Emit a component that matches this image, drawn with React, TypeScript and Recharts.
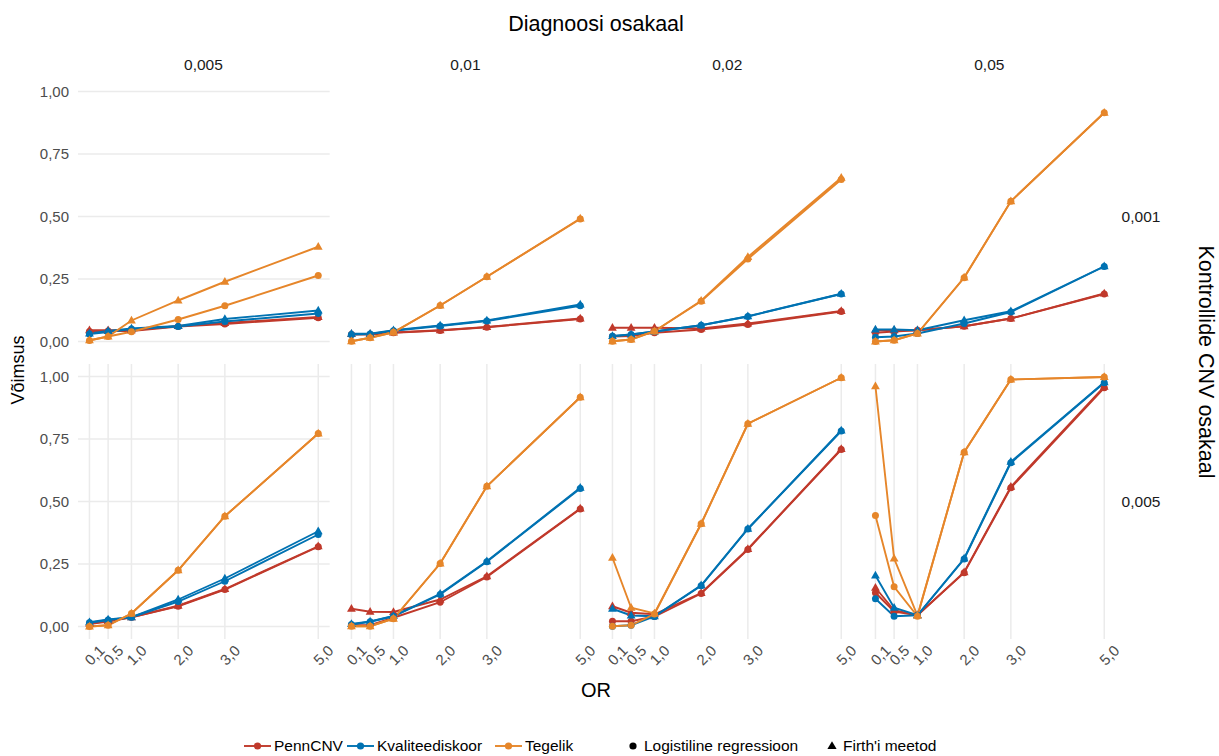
import { LineChart, Line, XAxis, YAxis, CartesianGrid } from "recharts";

const orValues = [0.1, 0.5, 1, 2, 3, 5];
const diagnosisShares = ["0,005", "0,01", "0,02", "0,05"];
const controlShares = ["0,001", "0,005"];
const powerTicks = [0, 0.25, 0.5, 0.75, 1];

// [kontrollide osakaal][diagnoosi osakaal][OR]
const pennLogit = [
  [
    [0.04, 0.042, 0.042, 0.06, 0.07, 0.095],
    [0.028, 0.028, 0.035, 0.044, 0.057, 0.09],
    [0.02, 0.022, 0.035, 0.048, 0.068, 0.12],
    [0.035, 0.04, 0.045, 0.061, 0.092, 0.19],
  ],
  [
    [0.01, 0.02, 0.037, 0.081, 0.148, 0.319],
    [0.005, 0.005, 0.035, 0.097, 0.198, 0.47],
    [0.021, 0.021, 0.04, 0.132, 0.308, 0.708],
    [0.135, 0.06, 0.045, 0.215, 0.555, 0.955],
  ],
];

const pennFirth = [
  [
    [0.045, 0.045, 0.045, 0.062, 0.074, 0.098],
    [0.03, 0.03, 0.036, 0.045, 0.058, 0.092],
    [0.055, 0.055, 0.055, 0.052, 0.072, 0.122],
    [0.045, 0.045, 0.045, 0.061, 0.092, 0.192],
  ],
  [
    [0.012, 0.022, 0.037, 0.083, 0.15, 0.321],
    [0.071, 0.059, 0.058, 0.108, 0.201, 0.472],
    [0.081, 0.055, 0.049, 0.134, 0.31, 0.71],
    [0.155, 0.065, 0.045, 0.217, 0.559, 0.959],
  ],
];

const qualLogit = [
  [
    [0.03, 0.038, 0.05, 0.06, 0.08, 0.112],
    [0.028, 0.03, 0.043, 0.062, 0.082, 0.143],
    [0.021, 0.028, 0.04, 0.065, 0.1, 0.19],
    [0.017, 0.02, 0.032, 0.072, 0.118, 0.3],
  ],
  [
    [0.015, 0.026, 0.037, 0.1, 0.181, 0.368],
    [0.008, 0.019, 0.041, 0.128, 0.259, 0.552],
    [0.001, 0.005, 0.04, 0.163, 0.39, 0.782],
    [0.111, 0.041, 0.045, 0.27, 0.655, 0.975],
  ],
];

const qualFirth = [
  [
    [0.032, 0.042, 0.052, 0.062, 0.09, 0.124],
    [0.031, 0.031, 0.045, 0.064, 0.084, 0.148],
    [0.022, 0.028, 0.04, 0.065, 0.101, 0.191],
    [0.048, 0.048, 0.045, 0.085, 0.121, 0.301],
  ],
  [
    [0.017, 0.028, 0.037, 0.108, 0.192, 0.381],
    [0.01, 0.02, 0.042, 0.131, 0.261, 0.555],
    [0.071, 0.044, 0.041, 0.165, 0.391, 0.784],
    [0.204, 0.075, 0.045, 0.272, 0.659, 0.977],
  ],
];

const trueLogit = [
  [
    [0.004, 0.02, 0.039, 0.088, 0.143, 0.264],
    [0.001, 0.015, 0.037, 0.144, 0.259, 0.49],
    [0.001, 0.008, 0.041, 0.161, 0.33, 0.648],
    [0.0, 0.005, 0.032, 0.255, 0.561, 0.915],
  ],
  [
    [0.0, 0.005, 0.052, 0.225, 0.441, 0.772],
    [0.001, 0.001, 0.031, 0.252, 0.561, 0.917],
    [0.001, 0.005, 0.05, 0.411, 0.811, 0.995],
    [0.444, 0.159, 0.041, 0.697, 0.988, 0.998],
  ],
];

const trueFirth = [
  [
    [0.005, 0.02, 0.084, 0.164, 0.239, 0.379],
    [0.001, 0.015, 0.037, 0.144, 0.259, 0.492],
    [0.001, 0.008, 0.041, 0.163, 0.338, 0.655],
    [0.0, 0.005, 0.032, 0.256, 0.561, 0.915],
  ],
  [
    [0.0, 0.005, 0.052, 0.225, 0.441, 0.772],
    [0.001, 0.001, 0.031, 0.252, 0.561, 0.917],
    [0.275, 0.075, 0.052, 0.411, 0.811, 0.995],
    [0.961, 0.272, 0.044, 0.697, 0.988, 0.998],
  ],
];

const RED = "#c0392b";
const BLUE = "#0072b2";
const ORANGE = "#e6862a";
const FONT = "'Liberation Sans', Arial, Helvetica, sans-serif";

const series = [
  { key: "pennLogit", src: pennLogit, color: RED, shape: "circle" },
  { key: "pennFirth", src: pennFirth, color: RED, shape: "triangle" },
  { key: "qualLogit", src: qualLogit, color: BLUE, shape: "circle" },
  { key: "qualFirth", src: qualFirth, color: BLUE, shape: "triangle" },
  { key: "trueLogit", src: trueLogit, color: ORANGE, shape: "circle" },
  { key: "trueFirth", src: trueFirth, color: ORANGE, shape: "triangle" },
];

const PLOT_W = 251.7;
const PLOT_H = 275;
const COL_LEFT = [77.6, 339.6, 601.4, 863.5];
const ROW_TOP = [79.2, 364.2];
const Y_AXIS_W = 60;
const X_AXIS_H = 45;

const fmt1 = (v: number) => v.toFixed(1).replace(".", ",");
const fmt2 = (v: number) => v.toFixed(2).replace(".", ",");

function makeDot(color: string, shape: string) {
  return (props: any) => {
    const { cx, cy, index } = props;
    if (cx == null || cy == null) return <g key={`d${index}`} />;
    if (shape === "triangle") {
      return (
        <polygon
          key={`d${index}`}
          points={`${cx},${cy - 4.8} ${cx - 4.4},${cy + 3} ${cx + 4.4},${cy + 3}`}
          fill={color}
        />
      );
    }
    return <circle key={`d${index}`} cx={cx} cy={cy} r={3.5} fill={color} />;
  };
}

function XTick(props: any) {
  const { x, payload } = props;
  const cx = x + 5;
  const cy = PLOT_H + 16;
  return (
    <text
      x={cx}
      y={cy}
      transform={`rotate(-45, ${cx}, ${cy})`}
      textAnchor="middle"
      dominantBaseline="central"
      fontSize={15}
      fill="#4d4d4d"
      fontFamily={FONT}
    >
      {fmt1(payload.value)}
    </text>
  );
}

function Panel({ row, col }: { row: number; col: number }) {
  const data = orValues.map((or, i) => {
    const d: any = { or };
    series.forEach((s) => {
      d[s.key] = s.src[row][col][i];
    });
    return d;
  });
  const showY = col === 0;
  const showX = row === 1;
  const width = PLOT_W + (showY ? Y_AXIS_W : 0);
  const height = PLOT_H + (showX ? X_AXIS_H : 0);
  return (
    <div
      style={{
        position: "absolute",
        left: COL_LEFT[col] - (showY ? Y_AXIS_W : 0),
        top: ROW_TOP[row],
      }}
    >
      <LineChart width={width} height={height} data={data} margin={{ top: 0, right: 0, bottom: 0, left: 0 }}>
        <CartesianGrid stroke="#ebebeb" strokeWidth={1.5} syncWithTicks />
        <XAxis
          dataKey="or"
          type="number"
          domain={[-0.145, 5.245]}
          ticks={orValues}
          allowDataOverflow
          axisLine={false}
          tickLine={false}
          height={showX ? X_AXIS_H : 0}
          tick={showX ? <XTick /> : false}
          interval={0}
        />
        <YAxis
          type="number"
          domain={[-0.05, 1.05]}
          ticks={powerTicks}
          allowDataOverflow
          axisLine={false}
          tickLine={false}
          width={showY ? Y_AXIS_W : 0}
          tick={showY ? { fontSize: 15, fill: "#4d4d4d", fontFamily: FONT } : false}
          tickFormatter={fmt2}
          tickSize={6}
          tickMargin={3}
          interval={0}
        />
        {series.map((s) => (
          <Line
            key={s.key}
            dataKey={s.key}
            stroke={s.color}
            strokeWidth={1.9}
            dot={makeDot(s.color, s.shape)}
            activeDot={false}
            isAnimationActive={false}
            type="linear"
          />
        ))}
      </LineChart>
    </div>
  );
}

function LegendGlyph({ color, shape, line }: { color: string; shape: string; line: boolean }) {
  const w = line ? 27 : 16;
  const c = w / 2;
  return (
    <svg width={w} height={16} style={{ display: "block" }}>
      {line && <line x1={0} y1={8} x2={w} y2={8} stroke={color} strokeWidth={1.9} />}
      {shape === "circle" ? (
        <circle cx={c} cy={8} r={3.6} fill={color} />
      ) : (
        <polygon points={`${c},3.2 ${c - 4.6},11 ${c + 4.6},11`} fill={color} />
      )}
    </svg>
  );
}

const colorLegend = [
  { label: "PennCNV", color: RED, left: 244 },
  { label: "Kvaliteediskoor", color: BLUE, left: 347 },
  { label: "Tegelik", color: ORANGE, left: 495 },
];
const shapeLegend = [
  { label: "Logistiline regressioon", shape: "circle", left: 625 },
  { label: "Firth'i meetod", shape: "triangle", left: 824 },
];

function LegendItem({ left, glyph, label }: { left: number; glyph: any; label: string }) {
  return (
    <div
      style={{
        position: "absolute",
        left,
        top: 738,
        display: "flex",
        alignItems: "center",
        fontSize: 15.5,
        color: "#000",
        whiteSpace: "nowrap",
        lineHeight: "16px",
      }}
    >
      {glyph}
      <span style={{ marginLeft: 3 }}>{label}</span>
    </div>
  );
}

export default function App() {
  return (
    <div
      style={{
        position: "absolute",
        left: 0,
        top: 0,
        width: 1219,
        height: 756,
        background: "#ffffff",
        fontFamily: FONT,
        overflow: "hidden",
      }}
    >
      <style>{`.recharts-surface{overflow:visible}`}</style>
      <svg width={1219} height={756} style={{ position: "absolute", left: 0, top: 0 }}>
        <text x={596} y={24} textAnchor="middle" dominantBaseline="central" fontSize={21.5} fill="#000" fontFamily={FONT}>
          Diagnoosi osakaal
        </text>
        {diagnosisShares.map((d, c) => (
          <text
            key={d}
            x={COL_LEFT[c] + PLOT_W / 2}
            y={64}
            textAnchor="middle"
            dominantBaseline="central"
            fontSize={15.5}
            fill="#1a1a1a"
            fontFamily={FONT}
          >
            {d}
          </text>
        ))}
        {controlShares.map((d, r) => (
          <text
            key={d}
            x={1141}
            y={ROW_TOP[r] + PLOT_H / 2}
            textAnchor="middle"
            dominantBaseline="central"
            fontSize={15.5}
            fill="#1a1a1a"
            fontFamily={FONT}
          >
            {d}
          </text>
        ))}
        <text
          x={1206}
          y={362}
          textAnchor="middle"
          dominantBaseline="central"
          fontSize={21.5}
          fill="#000"
          fontFamily={FONT}
          transform="rotate(90, 1206, 362)"
        >
          Kontrollide CNV osakaal
        </text>
        <text
          x={18}
          y={370}
          textAnchor="middle"
          dominantBaseline="central"
          fontSize={18}
          fill="#000"
          fontFamily={FONT}
          transform="rotate(-90, 18, 370)"
        >
          Võimsus
        </text>
        <text x={596} y={690} textAnchor="middle" dominantBaseline="central" fontSize={20} fill="#000" fontFamily={FONT}>
          OR
        </text>
      </svg>
      {[0, 1].map((r) => [0, 1, 2, 3].map((c) => <Panel key={`${r}-${c}`} row={r} col={c} />))}
      {colorLegend.map((l) => (
        <LegendItem key={l.label} left={l.left} label={l.label} glyph={<LegendGlyph color={l.color} shape="circle" line />} />
      ))}
      {shapeLegend.map((l) => (
        <LegendItem
          key={l.label}
          left={l.left}
          label={l.label}
          glyph={<LegendGlyph color="#000" shape={l.shape} line={false} />}
        />
      ))}
    </div>
  );
}
